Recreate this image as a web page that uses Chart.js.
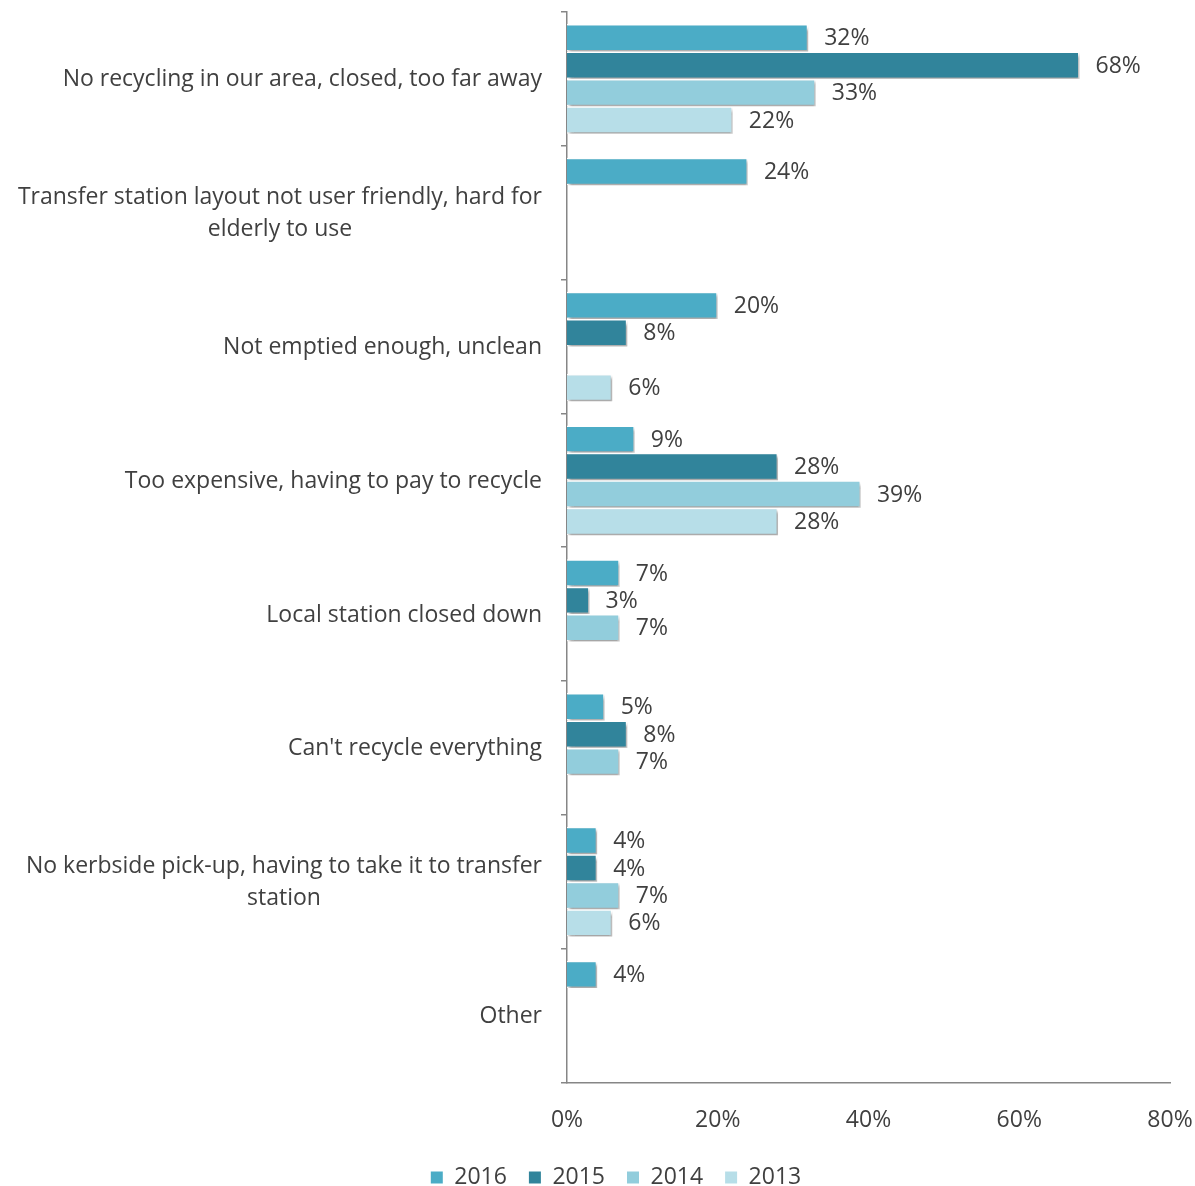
<!DOCTYPE html>
<html>
<head>
<meta charset="utf-8">
<script src="https://cdn.jsdelivr.net/npm/chart.js@4.4.1/dist/chart.umd.min.js"></script>
<style>
  html, body { margin: 0; padding: 0; background: #fff; }
  #wrap { width: 1195px; height: 1186px; }
</style>
</head>
<body>
<div id="wrap"><canvas id="chart" width="1195" height="1186"></canvas></div>
<script>
// Categories (multi-line where the original wraps)
const categories = [
  ['No recycling in our area, closed, too far away'],
  ['Transfer station layout not user friendly, hard for', 'elderly to use'],
  ['Not emptied enough, unclean'],
  ['Too expensive, having to pay to recycle'],
  ['Local station closed down'],
  ["Can't recycle everything"],
  ['No kerbside pick-up, having to take it to transfer', 'station'],
  ['Other']
];

// Values in percent, null where a year has no bar
const values2016 = [32, 24, 20, 9, 7, 5, 4, 4];
const values2015 = [68, null, 8, 28, 3, 8, 4, null];
const values2014 = [33, null, null, 39, 7, 7, 7, null];
const values2013 = [22, null, 6, 28, null, null, 6, null];

const seriesNames = ['2016', '2015', '2014', '2013'];
const seriesColors = ['#4BACC6', '#31849B', '#92CDDC', '#B7DEE8'];

const xTicks = [0, 20, 40, 60, 80];

const FONT = '"Open Sans", "Liberation Sans", sans-serif';
const TEXT_COLOR = '#404040';
const AXIS_COLOR = '#868686';
const FONT_SIZE = 23;

const seriesValues = [values2016, values2015, values2014, values2013];

const datasets = seriesNames.map((name, i) => ({
  label: name,
  data: seriesValues[i],
  backgroundColor: seriesColors[i],
  borderColor: '#ffffff',
  borderWidth: 1.5,
  categoryPercentage: 0.82,
  barPercentage: 1.0
}));

// Bar shadows + value labels at the end of each bar
const barDecor = {
  id: 'barDecor',
  beforeDatasetsDraw(chart) {
    const ctx = chart.ctx;
    ctx.save();
    ctx.shadowColor = 'rgba(0, 0, 0, 0.35)';
    ctx.shadowOffsetX = 2;
    ctx.shadowOffsetY = 3;
    ctx.shadowBlur = 3;
  },
  afterDatasetsDraw(chart) {
    const ctx = chart.ctx;
    ctx.restore();
    ctx.save();
    ctx.font = `${FONT_SIZE}px ${FONT}`;
    ctx.fillStyle = TEXT_COLOR;
    ctx.textAlign = 'left';
    ctx.textBaseline = 'middle';
    chart.data.datasets.forEach((ds, di) => {
      const meta = chart.getDatasetMeta(di);
      meta.data.forEach((bar, idx) => {
        const v = ds.data[idx];
        if (v === null || v === undefined) return;
        ctx.fillText(v + '%', bar.x + 16, bar.y + 1);
      });
    });
    ctx.restore();
  }
};

// Category labels: block right-aligned to the axis, lines centred inside the block
const categoryLabels = {
  id: 'categoryLabels',
  afterDraw(chart) {
    const ctx = chart.ctx;
    const yScale = chart.scales.y;
    const right = yScale.right - 25;
    const lineHeight = 32;
    ctx.save();
    ctx.font = `${FONT_SIZE}px ${FONT}`;
    ctx.fillStyle = TEXT_COLOR;
    ctx.textAlign = 'center';
    ctx.textBaseline = 'middle';
    categories.forEach((lines, i) => {
      const yc = yScale.getPixelForValue(i) + 1;
      const maxW = Math.max(...lines.map(l => ctx.measureText(l).width));
      const cx = right - maxW / 2;
      const top = yc - (lines.length - 1) * lineHeight / 2;
      lines.forEach((line, j) => {
        ctx.fillText(line, cx, top + j * lineHeight);
      });
    });
    ctx.restore();
  }
};

// Pull the legend a little closer to the axis labels and right of centre
const legendNudge = {
  id: 'legendNudge',
  afterLayout(chart) {
    const lg = chart.legend;
    if (lg) {
      lg.top -= 14;
      lg.bottom -= 14;
      lg.left += 20;
      lg.right += 20;
    }
  }
};

new Chart(document.getElementById('chart'), {
  type: 'bar',
  data: {
    labels: categories.map(c => c.join(' ')),
    datasets: datasets
  },
  plugins: [barDecor, categoryLabels, legendNudge],
  options: {
    indexAxis: 'y',
    responsive: false,
    animation: false,
    devicePixelRatio: 1,
    layout: { padding: { top: 12, right: 3, left: 0, bottom: -27 } },
    scales: {
      x: {
        min: 0,
        max: 80,
        afterBuildTicks(scale) {
          scale.ticks = xTicks.map(v => ({ value: v }));
        },
        afterFit(scale) {
          scale.paddingLeft = 0;
          scale.paddingRight = 25;
        },
        ticks: {
          callback: v => v + '%',
          color: TEXT_COLOR,
          font: { family: FONT, size: FONT_SIZE },
          padding: 24,
          maxRotation: 0
        },
        grid: { display: false, drawTicks: false },
        border: { display: true, color: AXIS_COLOR, width: 1.5 }
      },
      y: {
        type: 'category',
        offset: true,
        ticks: { display: false },
        grid: {
          offset: true,
          drawOnChartArea: false,
          drawTicks: true,
          tickLength: 6,
          color: AXIS_COLOR,
          lineWidth: 1.5
        },
        border: { display: true, color: AXIS_COLOR, width: 1.5 },
        afterFit(scale) {
          scale.width = 567;
        }
      }
    },
    plugins: {
      legend: {
        position: 'bottom',
        labels: {
          boxWidth: 12,
          boxHeight: 12,
          padding: 22,
          color: TEXT_COLOR,
          font: { family: FONT, size: FONT_SIZE },
          generateLabels(chart) {
            return Chart.defaults.plugins.legend.labels.generateLabels(chart).map(item => {
              item.lineWidth = 0;
              item.strokeStyle = item.fillStyle;
              return item;
            });
          }
        }
      },
      tooltip: { enabled: false }
    }
  }
});
</script>
</body>
</html>
